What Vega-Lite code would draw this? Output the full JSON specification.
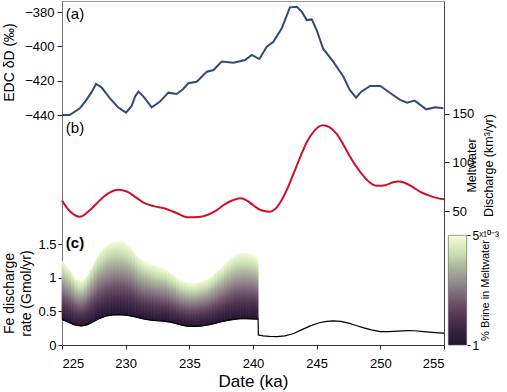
{
  "$schema": "https://vega.github.io/schema/vega-lite/v6.json",
  "width": 382,
  "height": 344,
  "autosize": {"type": "none"},
  "padding": {"left": 62, "top": 1, "right": 63, "bottom": 47},
  "background": "white",
  "config": {
    "view": {"stroke": "#999", "strokeWidth": 1},
    "font": "Liberation Sans",
    "axis": {
      "grid": false,
      "labelFont": "Liberation Sans",
      "titleFont": "Liberation Sans",
      "labelColor": "#000",
      "titleColor": "#000",
      "titleFontWeight": "normal",
      "labelFontSize": 13,
      "tickColor": "#222",
      "domainColor": "#777",
      "format": ".3~r"
    },
    "axisX": {
      "tickSize": 4,
      "labelPadding": 8,
      "titleFontSize": 17,
      "titlePadding": 3,
      "domainColor": "#333"
    }
  },
  "datasets": {
    "edc": [
      {"t": 225.0, "dD": -440}, {"t": 225.6, "dD": -440}, {"t": 226.4, "dD": -436.1}, {"t": 226.9, "dD": -431.3},
      {"t": 227.3, "dD": -427}, {"t": 227.67, "dD": -421.9}, {"t": 228.1, "dD": -423.9}, {"t": 228.77, "dD": -430.3},
      {"t": 229.4, "dD": -435.5}, {"t": 230.03, "dD": -438.6}, {"t": 230.47, "dD": -434.7}, {"t": 230.75, "dD": -429},
      {"t": 231.0, "dD": -426.4}, {"t": 231.4, "dD": -429.3}, {"t": 232.05, "dD": -435.5}, {"t": 232.7, "dD": -432.2},
      {"t": 233.35, "dD": -427}, {"t": 234.0, "dD": -427.8}, {"t": 234.5, "dD": -425}, {"t": 234.92, "dD": -421.5},
      {"t": 235.58, "dD": -420.6}, {"t": 236.37, "dD": -414.8}, {"t": 236.9, "dD": -413.8}, {"t": 237.54, "dD": -408.9},
      {"t": 238.46, "dD": -409.5}, {"t": 239.38, "dD": -408}, {"t": 239.9, "dD": -405}, {"t": 240.5, "dD": -407.4},
      {"t": 241.08, "dD": -400.2}, {"t": 241.6, "dD": -397.3}, {"t": 242.26, "dD": -389.5}, {"t": 242.9, "dD": -377.3},
      {"t": 243.44, "dD": -376.9}, {"t": 243.83, "dD": -379.8}, {"t": 244.22, "dD": -384.7}, {"t": 244.62, "dD": -384.3},
      {"t": 245.0, "dD": -390.5}, {"t": 245.5, "dD": -401.2}, {"t": 246.3, "dD": -408.9}, {"t": 247.1, "dD": -417.7},
      {"t": 247.6, "dD": -425.4}, {"t": 248.1, "dD": -429.9}, {"t": 248.5, "dD": -426.4}, {"t": 249.2, "dD": -423.1},
      {"t": 250.0, "dD": -423.1}, {"t": 250.8, "dD": -427.3}, {"t": 251.55, "dD": -431.2}, {"t": 252.1, "dD": -432.8},
      {"t": 252.7, "dD": -431.6}, {"t": 253.6, "dD": -436.7}, {"t": 254.3, "dD": -435.5}, {"t": 254.95, "dD": -436.1}
    ],
    "melt": [
      {"t": 225.0, "q": 60.7}, {"t": 225.6, "q": 50}, {"t": 226.4, "q": 44.1}, {"t": 227.2, "q": 51},
      {"t": 228.0, "q": 61.4}, {"t": 228.7, "q": 68.5}, {"t": 229.4, "q": 71.7}, {"t": 230.1, "q": 70},
      {"t": 230.8, "q": 64}, {"t": 231.4, "q": 58.6}, {"t": 232.2, "q": 55}, {"t": 233.0, "q": 52.8},
      {"t": 234.0, "q": 48}, {"t": 234.9, "q": 43.5}, {"t": 235.7, "q": 43.8}, {"t": 236.4, "q": 45.9},
      {"t": 237.1, "q": 50.5}, {"t": 237.7, "q": 56.2}, {"t": 238.4, "q": 61}, {"t": 239.0, "q": 63.1},
      {"t": 239.5, "q": 61}, {"t": 240.0, "q": 56.2}, {"t": 240.6, "q": 51}, {"t": 241.3, "q": 49.3},
      {"t": 241.7, "q": 51.5}, {"t": 242.1, "q": 58}, {"t": 242.7, "q": 73}, {"t": 243.2, "q": 89},
      {"t": 243.7, "q": 105}, {"t": 244.2, "q": 120}, {"t": 244.8, "q": 132}, {"t": 245.5, "q": 137.9},
      {"t": 246.0, "q": 136}, {"t": 246.6, "q": 128.6}, {"t": 247.1, "q": 118}, {"t": 247.6, "q": 106.2},
      {"t": 248.2, "q": 94}, {"t": 248.7, "q": 85.5}, {"t": 249.2, "q": 79}, {"t": 249.7, "q": 75.9},
      {"t": 250.4, "q": 76.5}, {"t": 251.0, "q": 79.5}, {"t": 251.4, "q": 80.3}, {"t": 251.9, "q": 79},
      {"t": 252.5, "q": 75}, {"t": 253.1, "q": 70}, {"t": 253.8, "q": 66}, {"t": 254.4, "q": 63.5},
      {"t": 255.0, "q": 62.1}
    ],
    "band": [
      {"t": 225.00, "lo": 0.380, "hi": 1.250, "a": -1, "b": 0},
      {"t": 225.25, "lo": 0.360, "hi": 1.195, "a": 0, "b": 1},
      {"t": 225.50, "lo": 0.340, "hi": 1.140, "a": 1, "b": 2},
      {"t": 225.75, "lo": 0.318, "hi": 1.070, "a": 2, "b": 3},
      {"t": 226.00, "lo": 0.300, "hi": 1.000, "a": 3, "b": 4},
      {"t": 226.25, "lo": 0.287, "hi": 0.960, "a": 4, "b": 5},
      {"t": 226.50, "lo": 0.282, "hi": 0.945, "a": 5, "b": 6},
      {"t": 226.75, "lo": 0.288, "hi": 0.965, "a": 6, "b": 7},
      {"t": 227.00, "lo": 0.302, "hi": 1.020, "a": 7, "b": 8},
      {"t": 227.25, "lo": 0.325, "hi": 1.105, "a": 8, "b": 9},
      {"t": 227.50, "lo": 0.350, "hi": 1.200, "a": 9, "b": 10},
      {"t": 227.75, "lo": 0.376, "hi": 1.290, "a": 10, "b": 11},
      {"t": 228.00, "lo": 0.400, "hi": 1.370, "a": 11, "b": 12},
      {"t": 228.25, "lo": 0.418, "hi": 1.425, "a": 12, "b": 13},
      {"t": 228.50, "lo": 0.432, "hi": 1.470, "a": 13, "b": 14},
      {"t": 228.75, "lo": 0.440, "hi": 1.503, "a": 14, "b": 15},
      {"t": 229.00, "lo": 0.446, "hi": 1.525, "a": 15, "b": 16},
      {"t": 229.25, "lo": 0.449, "hi": 1.537, "a": 16, "b": 17},
      {"t": 229.50, "lo": 0.450, "hi": 1.540, "a": 17, "b": 18},
      {"t": 229.75, "lo": 0.448, "hi": 1.527, "a": 18, "b": 19},
      {"t": 230.00, "lo": 0.444, "hi": 1.500, "a": 19, "b": 20},
      {"t": 230.25, "lo": 0.438, "hi": 1.460, "a": 20, "b": 21},
      {"t": 230.50, "lo": 0.430, "hi": 1.410, "a": 21, "b": 22},
      {"t": 230.75, "lo": 0.418, "hi": 1.355, "a": 22, "b": 23},
      {"t": 231.00, "lo": 0.405, "hi": 1.300, "a": 23, "b": 24},
      {"t": 231.25, "lo": 0.394, "hi": 1.262, "a": 24, "b": 25},
      {"t": 231.50, "lo": 0.385, "hi": 1.235, "a": 25, "b": 26},
      {"t": 231.75, "lo": 0.377, "hi": 1.213, "a": 26, "b": 27},
      {"t": 232.00, "lo": 0.370, "hi": 1.195, "a": 27, "b": 28},
      {"t": 232.25, "lo": 0.365, "hi": 1.177, "a": 28, "b": 29},
      {"t": 232.50, "lo": 0.360, "hi": 1.160, "a": 29, "b": 30},
      {"t": 232.75, "lo": 0.357, "hi": 1.143, "a": 30, "b": 31},
      {"t": 233.00, "lo": 0.354, "hi": 1.125, "a": 31, "b": 32},
      {"t": 233.25, "lo": 0.348, "hi": 1.100, "a": 32, "b": 33},
      {"t": 233.50, "lo": 0.340, "hi": 1.070, "a": 33, "b": 34},
      {"t": 233.75, "lo": 0.328, "hi": 1.033, "a": 34, "b": 35},
      {"t": 234.00, "lo": 0.315, "hi": 0.995, "a": 35, "b": 36},
      {"t": 234.25, "lo": 0.302, "hi": 0.967, "a": 36, "b": 37},
      {"t": 234.50, "lo": 0.290, "hi": 0.945, "a": 37, "b": 38},
      {"t": 234.75, "lo": 0.281, "hi": 0.930, "a": 38, "b": 39},
      {"t": 235.00, "lo": 0.276, "hi": 0.920, "a": 39, "b": 40},
      {"t": 235.25, "lo": 0.274, "hi": 0.917, "a": 40, "b": 41},
      {"t": 235.50, "lo": 0.276, "hi": 0.920, "a": 41, "b": 42},
      {"t": 235.75, "lo": 0.280, "hi": 0.928, "a": 42, "b": 43},
      {"t": 236.00, "lo": 0.285, "hi": 0.940, "a": 43, "b": 44},
      {"t": 236.25, "lo": 0.292, "hi": 0.955, "a": 44, "b": 45},
      {"t": 236.50, "lo": 0.300, "hi": 0.975, "a": 45, "b": 46},
      {"t": 236.75, "lo": 0.310, "hi": 1.008, "a": 46, "b": 47},
      {"t": 237.00, "lo": 0.320, "hi": 1.050, "a": 47, "b": 48},
      {"t": 237.25, "lo": 0.332, "hi": 1.095, "a": 48, "b": 49},
      {"t": 237.50, "lo": 0.345, "hi": 1.140, "a": 49, "b": 50},
      {"t": 237.75, "lo": 0.355, "hi": 1.185, "a": 50, "b": 51},
      {"t": 238.00, "lo": 0.365, "hi": 1.230, "a": 51, "b": 52},
      {"t": 238.25, "lo": 0.373, "hi": 1.272, "a": 52, "b": 53},
      {"t": 238.50, "lo": 0.380, "hi": 1.310, "a": 53, "b": 54},
      {"t": 238.75, "lo": 0.386, "hi": 1.337, "a": 54, "b": 55},
      {"t": 239.00, "lo": 0.390, "hi": 1.355, "a": 55, "b": 56},
      {"t": 239.25, "lo": 0.391, "hi": 1.363, "a": 56, "b": 57},
      {"t": 239.50, "lo": 0.390, "hi": 1.365, "a": 57, "b": 58},
      {"t": 239.75, "lo": 0.388, "hi": 1.352, "a": 58, "b": 59},
      {"t": 240.00, "lo": 0.386, "hi": 1.330, "a": 59, "b": 60},
      {"t": 240.25, "lo": 0.385, "hi": 1.300, "a": 60, "b": 61},
      {"t": 240.40, "lo": 0.385, "hi": 1.280, "a": 61, "b": 62}
    ],
    "fe": [
      {"t": 225.0, "fe": 0.38}, {"t": 225.5, "fe": 0.34}, {"t": 226.0, "fe": 0.30}, {"t": 226.5, "fe": 0.282},
      {"t": 227.0, "fe": 0.302}, {"t": 227.5, "fe": 0.35}, {"t": 228.0, "fe": 0.40}, {"t": 228.5, "fe": 0.432},
      {"t": 229.0, "fe": 0.446}, {"t": 229.5, "fe": 0.45}, {"t": 230.0, "fe": 0.444}, {"t": 230.5, "fe": 0.43},
      {"t": 231.0, "fe": 0.405}, {"t": 231.5, "fe": 0.385}, {"t": 232.0, "fe": 0.37}, {"t": 232.5, "fe": 0.36},
      {"t": 233.0, "fe": 0.354}, {"t": 233.5, "fe": 0.34}, {"t": 234.0, "fe": 0.315}, {"t": 234.5, "fe": 0.29},
      {"t": 235.0, "fe": 0.276}, {"t": 235.5, "fe": 0.276}, {"t": 236.0, "fe": 0.285}, {"t": 236.5, "fe": 0.30},
      {"t": 237.0, "fe": 0.32}, {"t": 237.5, "fe": 0.345}, {"t": 238.0, "fe": 0.365}, {"t": 238.5, "fe": 0.38},
      {"t": 239.0, "fe": 0.39}, {"t": 239.5, "fe": 0.39}, {"t": 240.0, "fe": 0.386}, {"t": 240.4, "fe": 0.385},
      {"t": 240.42, "fe": 0.15}, {"t": 240.8, "fe": 0.135}, {"t": 241.3, "fe": 0.127}, {"t": 241.9, "fe": 0.124},
      {"t": 242.5, "fe": 0.135}, {"t": 243.2, "fe": 0.17}, {"t": 243.8, "fe": 0.225}, {"t": 244.5, "fe": 0.284},
      {"t": 245.2, "fe": 0.33}, {"t": 245.8, "fe": 0.352}, {"t": 246.3, "fe": 0.358}, {"t": 246.9, "fe": 0.35},
      {"t": 247.5, "fe": 0.325}, {"t": 248.1, "fe": 0.29}, {"t": 248.7, "fe": 0.255}, {"t": 249.3, "fe": 0.225},
      {"t": 250.0, "fe": 0.2}, {"t": 250.7, "fe": 0.198}, {"t": 251.4, "fe": 0.205}, {"t": 252.1, "fe": 0.213},
      {"t": 252.7, "fe": 0.212}, {"t": 253.4, "fe": 0.2}, {"t": 254.1, "fe": 0.188}, {"t": 254.6, "fe": 0.18},
      {"t": 255.0, "fe": 0.175}
    ],
    "brine": [{"lo": 1, "hi": 5}],
    "one": [{}]
  },
  "resolve": {"scale": {"y": "independent"}, "axis": {"y": "independent"}},
  "layer": [
    {
      "data": {"name": "edc"},
      "mark": {"type": "line", "color": "#2f4b7c", "strokeWidth": 2},
      "encoding": {
        "x": {
          "field": "t", "type": "quantitative", "title": "Date (ka)",
          "scale": {"domain": [225, 255], "nice": false, "zero": false},
          "axis": {"values": [225, 230, 235, 240, 245, 250, 255]}
        },
        "y": {
          "field": "dD", "type": "quantitative",
          "scale": {"domain": [-573.98, -373.59], "nice": false, "zero": false},
          "axis": {
            "orient": "left", "values": [-440, -420, -400, -380], "title": "EDC δD (‰)",
            "titleFontSize": 14, "titleX": -53, "titleY": 61, "titleAlign": "center",
            "titleBaseline": "middle", "titleAngle": 270, "tickSize": 5, "labelPadding": 3
          }
        }
      }
    },
    {
      "data": {"name": "one"},
      "mark": {"type": "text", "text": "(a)", "align": "left", "baseline": "middle", "fontSize": 15, "font": "Liberation Sans", "color": "#000"},
      "encoding": {
        "x": {"datum": 225.3, "type": "quantitative", "title": "Date (ka)", "scale": {"domain": [225, 255], "nice": false, "zero": false}, "axis": {"values": [225, 230, 235, 240, 245, 250, 255]}},
        "y": {"datum": -381.2, "type": "quantitative", "scale": {"domain": [-573.98, -373.59], "nice": false, "zero": false}, "axis": null}
      }
    },
    {
      "data": {"name": "melt"},
      "mark": {"type": "line", "color": "#d0102a", "strokeWidth": 2, "interpolate": "monotone"},
      "encoding": {
        "x": {"field": "t", "type": "quantitative", "title": "Date (ka)", "scale": {"domain": [225, 255], "nice": false, "zero": false}, "axis": {"values": [225, 230, 235, 240, 245, 250, 255]}},
        "y": {
          "field": "q", "type": "quantitative",
          "scale": {"domain": [-87.4, 265.4], "nice": false, "zero": false},
          "axis": {
            "orient": "right", "values": [50, 100, 150], "title": ["Meltwater", "Discharge (km³/yr)"],
            "titleFontSize": 12.5, "titleLineHeight": 17, "titleX": 27, "titleY": 164, "titleAlign": "center",
            "titleBaseline": "middle", "titleAngle": 270, "tickSize": 5, "labelPadding": 3, "domainColor": "#444"
          }
        }
      }
    },
    {
      "data": {"name": "one"},
      "mark": {"type": "text", "text": "(b)", "align": "left", "baseline": "middle", "fontSize": 15, "font": "Liberation Sans", "color": "#000"},
      "encoding": {
        "x": {"datum": 225.3, "type": "quantitative", "title": "Date (ka)", "scale": {"domain": [225, 255], "nice": false, "zero": false}, "axis": {"values": [225, 230, 235, 240, 245, 250, 255]}},
        "y": {"datum": 135.1, "type": "quantitative", "scale": {"domain": [-87.4, 265.4], "nice": false, "zero": false}, "axis": null}
      }
    },
    {
      "data": {"name": "band"},
      "transform": [{"fold": ["a", "b"], "as": ["k", "strip"]}],
      "mark": {
        "type": "area",
        "strokeWidth": 0.8,
        "color": {
          "gradient": "linear", "x1": 0, "y1": 1, "x2": 0, "y2": 0,
          "stops": [
            {"offset": 0, "color": "#231530"},
            {"offset": 0.12, "color": "#37223f"},
            {"offset": 0.25, "color": "#4e344f"},
            {"offset": 0.38, "color": "#6a5068"},
            {"offset": 0.5, "color": "#857580"},
            {"offset": 0.6, "color": "#99938f"},
            {"offset": 0.7, "color": "#a9b39c"},
            {"offset": 0.82, "color": "#c6dab0"},
            {"offset": 0.92, "color": "#e0efc4"},
            {"offset": 1, "color": "#f4fbd9"}
          ]
        },
        "stroke": {
          "gradient": "linear", "x1": 0, "y1": 1, "x2": 0, "y2": 0,
          "stops": [
            {"offset": 0, "color": "#231530"},
            {"offset": 0.12, "color": "#37223f"},
            {"offset": 0.25, "color": "#4e344f"},
            {"offset": 0.38, "color": "#6a5068"},
            {"offset": 0.5, "color": "#857580"},
            {"offset": 0.6, "color": "#99938f"},
            {"offset": 0.7, "color": "#a9b39c"},
            {"offset": 0.82, "color": "#c6dab0"},
            {"offset": 0.92, "color": "#e0efc4"},
            {"offset": 1, "color": "#f4fbd9"}
          ]
        }
      },
      "encoding": {
        "x": {"field": "t", "type": "quantitative", "title": "Date (ka)", "scale": {"domain": [225, 255], "nice": false, "zero": false}, "axis": {"values": [225, 230, 235, 240, 245, 250, 255]}},
        "y": {
          "field": "hi", "type": "quantitative",
          "scale": {"domain": [0, 5.109], "nice": false, "zero": false},
          "axis": {
            "orient": "left", "values": [0, 0.5, 1, 1.5], "title": ["Fe discharge", "rate (Gmol/yr)"],
            "titleFontSize": 14, "titleLineHeight": 16.5, "titleX": -52.5, "titleY": 292, "titleAlign": "center",
            "titleBaseline": "middle", "titleAngle": 270, "tickSize": 4, "labelPadding": 2
          }
        },
        "y2": {"field": "lo"},
        "detail": {"field": "strip", "type": "nominal"}
      }
    },
    {
      "data": {"name": "fe"},
      "mark": {"type": "line", "color": "#000", "strokeWidth": 1.2},
      "encoding": {
        "x": {"field": "t", "type": "quantitative", "title": "Date (ka)", "scale": {"domain": [225, 255], "nice": false, "zero": false}, "axis": {"values": [225, 230, 235, 240, 245, 250, 255]}},
        "y": {"field": "fe", "type": "quantitative", "scale": {"domain": [0, 5.109], "nice": false, "zero": false}, "axis": null}
      }
    },
    {
      "data": {"name": "one"},
      "mark": {"type": "text", "text": "(c)", "align": "left", "baseline": "middle", "fontSize": 15, "fontWeight": "bold", "font": "Liberation Sans", "color": "#000"},
      "encoding": {
        "x": {"datum": 225.3, "type": "quantitative", "title": "Date (ka)", "scale": {"domain": [225, 255], "nice": false, "zero": false}, "axis": {"values": [225, 230, 235, 240, 245, 250, 255]}},
        "y": {"datum": 1.51, "type": "quantitative", "scale": {"domain": [0, 5.109], "nice": false, "zero": false}, "axis": null}
      }
    },
    {
      "data": {"name": "brine"},
      "mark": {
        "type": "rect", "stroke": "#555", "strokeWidth": 0.6,
        "color": {
          "gradient": "linear", "x1": 0, "y1": 1, "x2": 0, "y2": 0,
          "stops": [
            {"offset": 0, "color": "#231530"},
            {"offset": 0.12, "color": "#37223f"},
            {"offset": 0.25, "color": "#4e344f"},
            {"offset": 0.38, "color": "#6a5068"},
            {"offset": 0.5, "color": "#857580"},
            {"offset": 0.6, "color": "#99938f"},
            {"offset": 0.7, "color": "#a9b39c"},
            {"offset": 0.82, "color": "#c6dab0"},
            {"offset": 0.92, "color": "#e0efc4"},
            {"offset": 1, "color": "#f4fbd9"}
          ]
        }
      },
      "encoding": {
        "x": {"datum": 255.34, "type": "quantitative", "title": "Date (ka)", "scale": {"domain": [225, 255], "nice": false, "zero": false}, "axis": {"values": [225, 230, 235, 240, 245, 250, 255]}},
        "x2": {"datum": 256.78},
        "y": {
          "field": "lo", "type": "quantitative",
          "scale": {"domain": [1, 13.542], "nice": false, "zero": false},
          "axis": {
            "orient": "right", "offset": 23, "values": [1, 5], "domain": false, "tickSize": 3,
            "labelPadding": 2, "labelFontSize": 12,
            "labelExpr": "datum.value == 5 ? '5ˣ¹⁰⁻³' : datum.label",
            "title": "% Brine in Meltwater", "titleFontSize": 11, "titleX": 18, "titleY": 289,
            "titleAlign": "center", "titleBaseline": "middle", "titleAngle": 270
          }
        },
        "y2": {"field": "hi"}
      }
    }
  ]
}
